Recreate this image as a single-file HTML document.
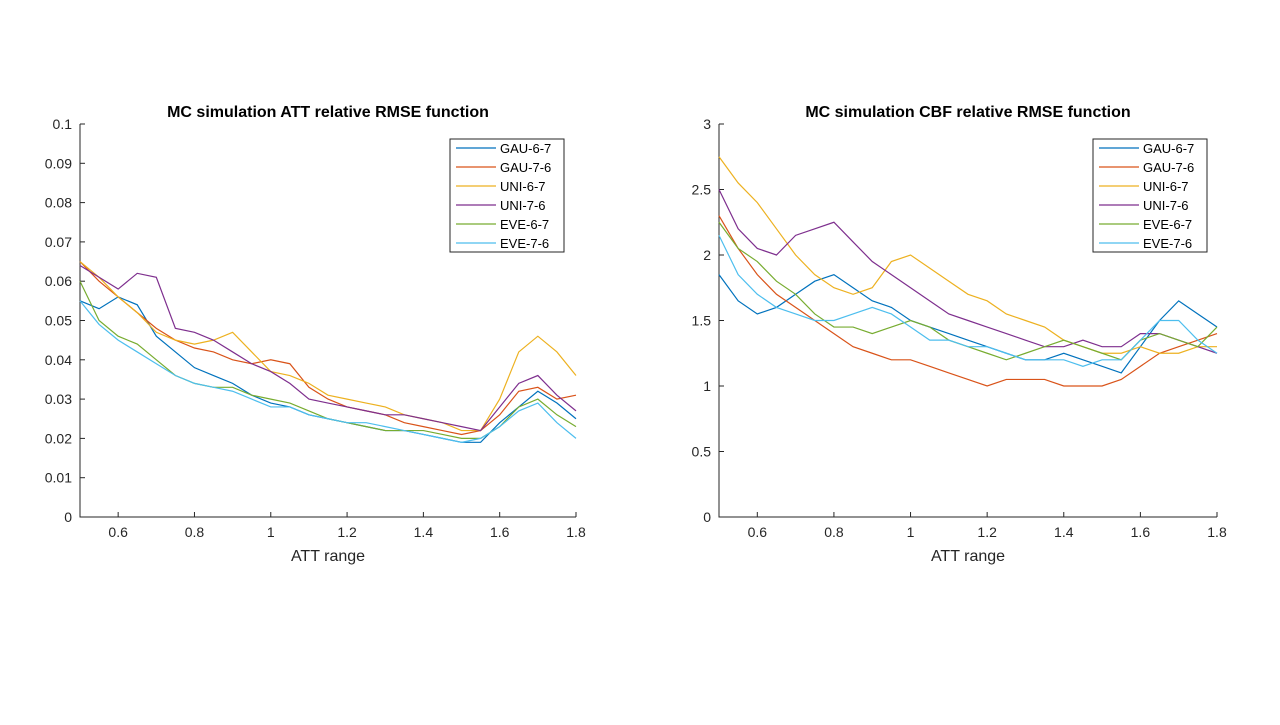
<!DOCTYPE html>
<html><head><meta charset="utf-8"><style>
body{margin:0;background:#fff;font-family:"Liberation Sans",Arial,sans-serif}
svg text{font-family:"Liberation Sans",Arial,sans-serif}
</style></head><body>
<svg id="c" width="1280" height="720"></svg>
<script>
const xs=[0.5,0.55,0.6,0.65,0.7,0.75,0.8,0.85,0.9,0.95,1.0,1.05,1.1,1.15,1.2,1.25,1.3,1.35,1.4,1.45,1.5,1.55,1.6,1.65,1.7,1.75,1.8];
const names=["GAU-6-7","GAU-7-6","UNI-6-7","UNI-7-6","EVE-6-7","EVE-7-6"];
const colors=["#0072BD","#D95319","#EDB120","#7E2F8E","#77AC30","#4DBEEE"];
const att_gau67=[0.055,0.053,0.056,0.054,0.046,0.042,0.038,0.036,0.034,0.031,0.029,0.028,0.026,0.025,0.024,0.023,0.022,0.022,0.021,0.020,0.019,0.019,0.024,0.028,0.032,0.029,0.025];
const att_gau76=[0.065,0.060,0.056,0.052,0.048,0.045,0.043,0.042,0.040,0.039,0.040,0.039,0.033,0.030,0.028,0.027,0.026,0.024,0.023,0.022,0.021,0.022,0.026,0.032,0.033,0.030,0.031];
const att_uni67=[0.065,0.061,0.056,0.052,0.047,0.045,0.044,0.045,0.047,0.042,0.037,0.036,0.034,0.031,0.030,0.029,0.028,0.026,0.025,0.024,0.022,0.022,0.030,0.042,0.046,0.042,0.036];
const att_uni76=[0.064,0.061,0.058,0.062,0.061,0.048,0.047,0.045,0.042,0.039,0.037,0.034,0.030,0.029,0.028,0.027,0.026,0.026,0.025,0.024,0.023,0.022,0.028,0.034,0.036,0.031,0.027];
const att_eve67=[0.060,0.050,0.046,0.044,0.040,0.036,0.034,0.033,0.033,0.031,0.030,0.029,0.027,0.025,0.024,0.023,0.022,0.022,0.022,0.021,0.020,0.020,0.023,0.028,0.030,0.026,0.023];
const att_eve76=[0.055,0.049,0.045,0.042,0.039,0.036,0.034,0.033,0.032,0.030,0.028,0.028,0.026,0.025,0.024,0.024,0.023,0.022,0.021,0.020,0.019,0.020,0.023,0.027,0.029,0.024,0.020];
const cbf_gau67=[1.85,1.65,1.55,1.6,1.7,1.8,1.85,1.75,1.65,1.6,1.5,1.45,1.4,1.35,1.3,1.25,1.2,1.2,1.25,1.2,1.15,1.1,1.3,1.5,1.65,1.55,1.45];
const cbf_gau76=[2.3,2.05,1.85,1.7,1.6,1.5,1.4,1.3,1.25,1.2,1.2,1.15,1.1,1.05,1.0,1.05,1.05,1.05,1.0,1.0,1.0,1.05,1.15,1.25,1.3,1.35,1.4];
const cbf_uni67=[2.75,2.55,2.4,2.2,2.0,1.85,1.75,1.7,1.75,1.95,2.0,1.9,1.8,1.7,1.65,1.55,1.5,1.45,1.35,1.3,1.25,1.25,1.3,1.25,1.25,1.3,1.3];
const cbf_uni76=[2.5,2.2,2.05,2.0,2.15,2.2,2.25,2.1,1.95,1.85,1.75,1.65,1.55,1.5,1.45,1.4,1.35,1.3,1.3,1.35,1.3,1.3,1.4,1.4,1.35,1.3,1.25];
const cbf_eve67=[2.25,2.05,1.95,1.8,1.7,1.55,1.45,1.45,1.4,1.45,1.5,1.45,1.35,1.3,1.25,1.2,1.25,1.3,1.35,1.3,1.25,1.2,1.35,1.4,1.35,1.3,1.45];
const cbf_eve76=[2.15,1.85,1.7,1.6,1.55,1.5,1.5,1.55,1.6,1.55,1.45,1.35,1.35,1.3,1.3,1.25,1.2,1.2,1.2,1.15,1.2,1.2,1.35,1.5,1.5,1.35,1.25];
const xTicks=[0.6,0.8,1,1.2,1.4,1.6,1.8];
const attTicks=["0","0.01","0.02","0.03","0.04","0.05","0.06","0.07","0.08","0.09","0.1"];
const cbfTicks=["0","0.5","1","1.5","2","2.5","3"];
const NS="http://www.w3.org/2000/svg";
const svg=document.getElementById('c');
function mk(t,a,p){const e=document.createElementNS(NS,t);for(const k in a)e.setAttribute(k,a[k]);(p||svg).appendChild(e);return e;}
function chart(id,x0,x1,y0,y1,ymax,yTicks,series,title,lx){
  const g=mk('g',{});
  
  
  const X=v=>x0+(v-0.5)/1.3*(x1-x0), Y=v=>y0-v/ymax*(y0-y1);
  const ax=mk('path',{d:`M${x0},${y1}V${y0}H${x1}`,stroke:'#262626',fill:'none','stroke-width':1},g);
  
  xTicks.forEach(t=>{const x=X(t);mk('line',{x1:x,x2:x,y1:y0,y2:y0-5,stroke:'#262626'},g);
    const tx=mk('text',{x:x,y:y0+20,'text-anchor':'middle','font-size':14,fill:'#262626'},g);tx.textContent=String(t);
    });
  yTicks.forEach(t=>{const y=Y(+t);mk('line',{x1:x0,x2:x0+5,y1:y,y2:y,stroke:'#262626'},g);
    const tx=mk('text',{x:x0-8,y:y+5,'text-anchor':'end','font-size':14,fill:'#262626'},g);tx.textContent=t;
    });
  const tt=mk('text',{x:(x0+x1)/2,y:117,'text-anchor':'middle','font-size':16,'font-weight':'bold',fill:'#000'},g);tt.textContent=title;
  
  const xl=mk('text',{x:(x0+x1)/2,y:561,'text-anchor':'middle','font-size':16,fill:'#262626'},g);xl.textContent='ATT range';
  
  series.forEach((s,i)=>{const p=mk('polyline',{points:s.map((v,j)=>X(xs[j])+','+Y(v)).join(' '),fill:'none',stroke:colors[i],'stroke-width':1.2},g);
    });
  const lg=mk('g',{},g);
  mk('rect',{x:lx,y:139,width:114,height:113,fill:'#fff',stroke:'#262626'},lg);
  names.forEach((n,i)=>{const y=148+i*19;mk('line',{x1:lx+6,x2:lx+46,y1:y,y2:y,stroke:colors[i],'stroke-width':1.2},lg);
    const t=mk('text',{x:lx+50,y:y+5,'font-size':13,fill:'#000'},lg);t.textContent=n;
    });
}
chart('att-chart',80,576,517,124,0.1,attTicks,[att_gau67,att_gau76,att_uni67,att_uni76,att_eve67,att_eve76],'MC simulation ATT relative RMSE function',450);
chart('cbf-chart',719,1217,517,124,3,cbfTicks,[cbf_gau67,cbf_gau76,cbf_uni67,cbf_uni76,cbf_eve67,cbf_eve76],'MC simulation CBF relative RMSE function',1093);
</script>
</body></html>
